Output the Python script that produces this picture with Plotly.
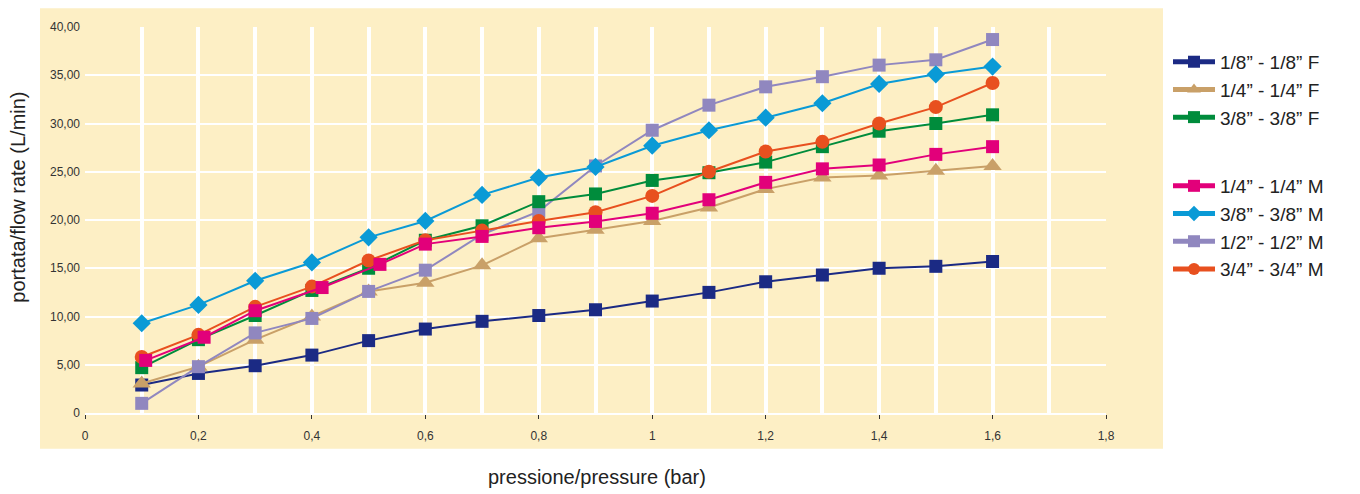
import plotly.graph_objects as go

pressure = [0.1, 0.2, 0.3, 0.4, 0.5, 0.6, 0.7, 0.8, 0.9, 1.0, 1.1, 1.2, 1.3, 1.4, 1.5, 1.6]
pressure_m14 = [0.107, 0.21, 0.3, 0.418, 0.52, 0.6, 0.7, 0.8, 0.9, 1.0, 1.1, 1.2, 1.3, 1.4, 1.5, 1.6]

f18 = [2.9, 4.1, 4.9, 6.0, 7.5, 8.7, 9.5, 10.1, 10.7, 11.6, 12.5, 13.6, 14.3, 15.0, 15.2, 15.7]
f14 = [3.05, 4.8, 7.6, 10.0, 12.6, 13.5, 15.3, 18.1, 19.0, 19.9, 21.3, 23.2, 24.4, 24.6, 25.1, 25.6]
f38 = [4.7, 7.6, 10.1, 12.7, 15.0, 17.9, 19.4, 21.9, 22.7, 24.1, 24.9, 26.0, 27.6, 29.2, 30.0, 30.9]
m14 = [5.45, 7.85, 10.6, 13.0, 15.4, 17.5, 18.3, 19.2, 19.85, 20.7, 22.1, 23.9, 25.3, 25.7, 26.8, 27.6]
m38 = [9.3, 11.2, 13.7, 15.6, 18.2, 19.9, 22.6, 24.4, 25.5, 27.7, 29.3, 30.6, 32.1, 34.1, 35.1, 35.9]
m12 = [1.0, 4.8, 8.3, 9.8, 12.6, 14.8, 18.5, 20.9, 25.6, 29.3, 31.9, 33.8, 34.85, 36.05, 36.6, 38.7]
m34 = [5.8, 8.1, 11.0, 13.1, 15.8, 17.9, 18.9, 19.9, 20.8, 22.5, 25.0, 27.1, 28.1, 30.0, 31.7, 34.2]

names = ["1/8” - 1/8” F", "1/4” - 1/4” F", "3/8” - 3/8” F",
         "1/4” - 1/4” M", "3/8” - 3/8” M", "1/2” - 1/2” M", "3/4” - 3/4” M"]
groups = ["F", "F", "F", "M", "M", "M", "M"]
colors = ["#1B2A84", "#C9A068", "#008C3C", "#E2007A", "#0A9AD6", "#9087BF", "#E8501F"]
symbols = ["square", "triangle-up", "square", "square", "diamond", "square", "circle"]
msizes = [13, 16, 13, 13, 14, 13, 14]

x_tickvals = [0, 0.2, 0.4, 0.6, 0.8, 1.0, 1.2, 1.4, 1.6, 1.8]
x_ticktext = ["0", "0,2", "0,4", "0,6", "0,8", "1", "1,2", "1,4", "1,6", "1,8"]
y_tickvals = [0, 5, 10, 15, 20, 25, 30, 35, 40]
y_ticktext = ["0", "5,00", "10,00", "15,00", "20,00", "25,00", "30,00", "35,00", "40,00"]

xs = [pressure, pressure, pressure, pressure_m14, pressure, pressure, pressure]
ys = [f18, f14, f38, m14, m38, m12, m34]

BEIGE = "#FDEFC5"

fig = go.Figure()
order = [0, 1, 5, 4, 2, 6, 3]
for i in order:
    fig.add_trace(go.Scatter(
        x=xs[i], y=ys[i], name=names[i], mode="lines+markers",
        legendgroup=groups[i], legendrank=i + 1,
        line=dict(color=colors[i], width=2),
        marker=dict(symbol=symbols[i], size=msizes[i], color=colors[i]),
    ))

# page body has an 8px margin: work in screen pixels, shift by OFF
OFF = 8
W, H = 1360 - OFF, 494 - OFF
L, R, T, B = 85 - OFF, 1106 - OFF, 24 - OFF, 413 - OFF
pw, ph = R - L, B - T

def px(xs_):
    return (xs_ - OFF - L) / pw

def py(ys_):
    return (B - (ys_ - OFF)) / ph

fig.add_shape(type="rect", xref="paper", yref="paper", layer="below",
              x0=px(40), x1=px(1163), y0=py(449), y1=py(5),
              fillcolor=BEIGE, line=dict(width=0))

fig.update_layout(
    width=W, height=H,
    margin=dict(l=L, r=W - R, t=T, b=H - B, pad=0),
    paper_bgcolor="white", plot_bgcolor=BEIGE,
    font=dict(family="Liberation Sans, Arial, sans-serif", color="#222"),
    showlegend=True,
    legend=dict(x=px(1168), y=py(40), xanchor="left", yanchor="top",
                bgcolor="rgba(0,0,0,0)", font=dict(size=19, color="#222"),
                traceorder="grouped", tracegroupgap=41, itemwidth=42,
                itemsizing="constant"),
    xaxis=dict(range=[0, 1.8], tickvals=x_tickvals, ticktext=x_ticktext,
               showgrid=True, gridcolor="white", gridwidth=4,
               minor=dict(dtick=0.1, tick0=0, showgrid=True, gridcolor="white", gridwidth=4),
               ticks="outside", ticklen=4, tickcolor="#333", tickwidth=1,
               tickfont=dict(size=12, color="#333"), ticklabelstandoff=7,
               zeroline=False, showline=True, linecolor="white", linewidth=2),
    yaxis=dict(range=[0, 40], tickvals=y_tickvals, ticktext=y_ticktext,
               showgrid=True, gridcolor="white", gridwidth=2,
               ticks="", tickfont=dict(size=12, color="#333"), ticklabelstandoff=4,
               zeroline=False, showline=False),
    annotations=[
        dict(text="portata/flow rate (L/min)", xref="paper", yref="paper",
             x=px(18), y=py(196), textangle=-90, showarrow=False,
             font=dict(size=20, color="#222"), xanchor="center", yanchor="middle"),
        dict(text="pressione/pressure (bar)", xref="paper", yref="paper",
             x=px(597), y=py(478), showarrow=False,
             font=dict(size=20, color="#222"), xanchor="center", yanchor="middle"),
    ],
)

fig.write_html("out.html")
